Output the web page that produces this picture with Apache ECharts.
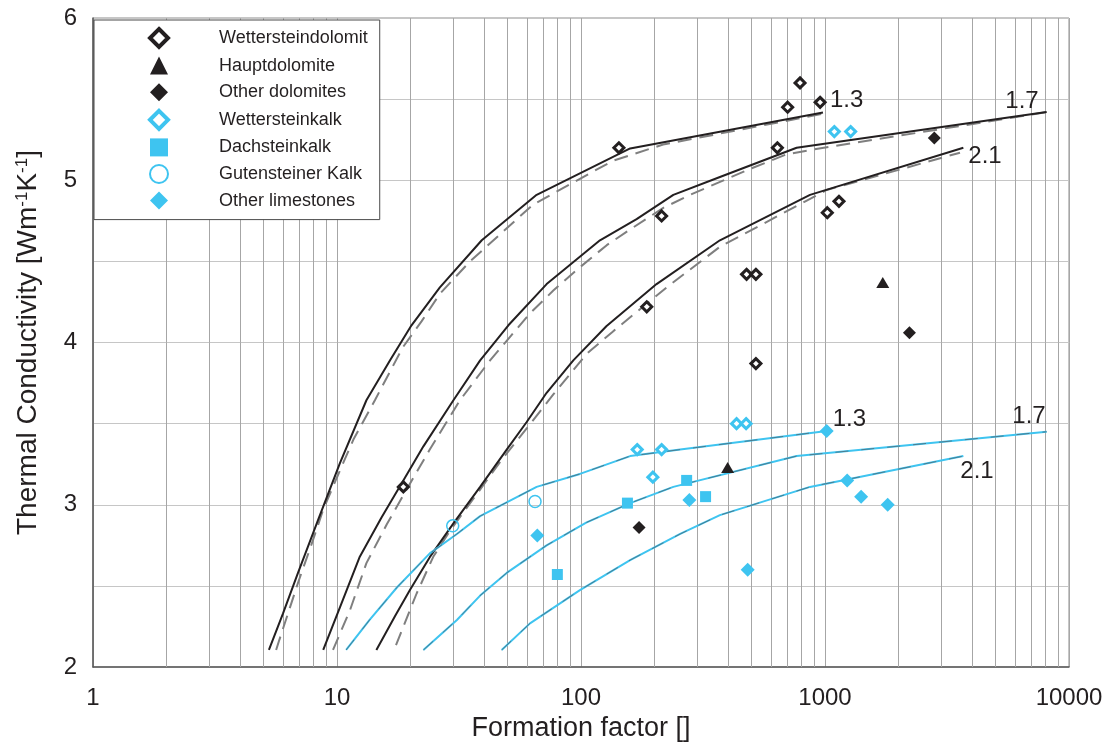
<!DOCTYPE html>
<html>
<head>
<meta charset="utf-8">
<script src="https://cdn.jsdelivr.net/npm/echarts@6.0.0/dist/echarts.min.js"></script>
<style>
  html, body { margin: 0; padding: 0; background: #ffffff; }
  #chart { width: 1115px; height: 744px; }
</style>
</head>
<body>
<div id="chart"></div>
<script>
// ---- model curves: [formation factor, thermal conductivity] ----
const dolo13 = [[5.26,2.105],[6.01,2.33],[6.92,2.58],[8.36,2.905],[10.28,3.256],[13.2,3.644],[16.5,3.89],[20.2,4.106],[26.4,4.34],[39.2,4.63],[65.8,4.91],[159,5.196],[981,5.417]];
const dolo13Dashed = [[5.63,2.105],[5.8,2.166],[6.94,2.524],[7.88,2.76],[8.78,2.97],[9.97,3.165],[11.66,3.40],[14.3,3.644],[18.6,3.97],[22.2,4.13],[26.4,4.30],[35.1,4.50],[63.6,4.85],[135,5.12],[217,5.22],[981,5.41]];
const dolo17 = [[8.78,2.105],[10.3,2.37],[12.4,2.68],[15.2,2.92],[18.7,3.15],[22.6,3.36],[30.0,3.644],[38.6,3.89],[50.4,4.106],[72.3,4.36],[119.6,4.63],[169,4.76],[239,4.91],[371,5.02],[765,5.20],[8100,5.42]];
const dolo17Dashed = [[9.63,2.105],[11.3,2.35],[13.2,2.64],[16.0,2.88],[19.9,3.13],[24.0,3.34],[31.9,3.644],[42.4,3.89],[51.2,4.035],[61.8,4.18],[77.0,4.32],[99.2,4.465],[127.5,4.60],[164,4.71],[217.5,4.83],[280,4.91],[493,5.07],[697,5.16],[896,5.19],[8100,5.42]];
const dolo21 = [[14.5,2.105],[17.3,2.314],[19.9,2.474],[24.0,2.677],[30.0,2.885],[38.6,3.11],[49.6,3.34],[59.9,3.51],[72.3,3.69],[93.0,3.89],[127,4.10],[204,4.36],[371,4.63],[868,4.91],[3690,5.20]];
const dolo21Dashed = [[17.45,2.135],[18.7,2.248],[21.2,2.453],[24.8,2.679],[29.05,2.84],[34.0,2.98],[48.0,3.29],[59.9,3.47],[77.0,3.68],[105.5,3.93],[135.7,4.07],[224.5,4.34],[371,4.59],[1016,4.94],[3575,5.17]];
const lime13 = [[10.9,2.105],[13.6,2.29],[17.6,2.49],[24.0,2.70],[31.0,2.82],[38.6,2.93],[65.8,3.11],[99,3.19],[159,3.30],[255,3.34],[1016,3.455]];
const lime17 = [[22.6,2.105],[31.0,2.29],[38.6,2.44],[49.6,2.58],[72.3,2.75],[105,2.89],[159,3.01],[239,3.11],[765,3.30],[8100,3.45]];
const lime21 = [[47.3,2.105],[61.8,2.269],[99,2.474],[159,2.659],[255,2.82],[371,2.936],[868,3.11],[3690,3.30]];

// ---- measured samples: [formation factor, thermal conductivity] ----
const wettersteindolomit = [[143,5.20],[214,4.78],[186,4.22],[18.7,3.11],[790,5.60],[703,5.45],[955,5.48],[638,5.20],[1022,4.80],[1141,4.87],[477,4.42],[521,4.42],[521,3.87]];
const hauptdolomite = [[1725,4.37],[399,3.23]];
const otherDolomites = [[2806,5.26],[2218,4.06],[173,2.86]];
const wettersteinkalk = [[1092,5.30],[1274,5.30],[170,3.34],[214,3.34],[197,3.17],[434,3.50],[475,3.50]];
const dachsteinkalk = [[155,3.01],[80,2.57],[271,3.15],[324,3.05]];
const gutensteinerKalk = [[64.8,3.02],[29.8,2.87]];
const otherLimestones = [[66.2,2.81],[1016,3.455],[278,3.03],[1233,3.15],[1406,3.05],[1807,3.00],[482,2.60]];

// ---- axes ----
const xTicks = [1, 10, 100, 1000, 10000];
const yTicks = [2, 3, 4, 5, 6];
const decadeStarts = [1, 10, 100, 1000];

const INK = '#231f20';
const BLUE = '#3ec4f0';
const GREY_DASH = '#7f7f7f';
const FONT = 'Liberation Sans, Arial, Helvetica, sans-serif';

// vertical grid lines at 2..9 within every decade
const minorX = [];
decadeStarts.forEach(d => { for (let m = 2; m <= 9; m++) minorX.push(m * d); });

function modelSolid(data, color, labelText, labelOpt) {
  return {
    type: 'line', data, showSymbol: false, silent: true, z: 3,
    lineStyle: { color, width: 2 },
    endLabel: Object.assign({
      show: true, formatter: labelText, distance: 0,
      fontFamily: FONT, fontSize: 24, color: INK
    }, labelOpt)
  };
}
function modelDashed(data, color, width, z, dash, opacity) {
  return {
    type: 'line', data, showSymbol: false, silent: true, z,
    lineStyle: { color, width, type: dash, opacity: opacity == null ? 1 : opacity }
  };
}

const option = {
  animation: false,
  backgroundColor: '#ffffff',
  textStyle: { fontFamily: FONT, color: INK },
  grid: {
    left: 93, right: 46, top: 18, bottom: 77, outerBoundsMode: 'none',
    show: true, borderColor: '#8c8c8c', borderWidth: 1
  },
  xAxis: {
    type: 'log', logBase: 10, min: xTicks[0], max: xTicks[xTicks.length - 1],
    name: 'Formation factor []', nameLocation: 'middle', nameGap: 47,
    nameTextStyle: { fontSize: 27, color: INK, fontFamily: FONT },
    axisLine: { show: true, lineStyle: { color: '#5a5a5a', width: 1.5 } },
    axisTick: { show: false },
    axisLabel: { fontSize: 24, color: INK, margin: 19, fontFamily: FONT,
      formatter: v => (xTicks.indexOf(v) >= 0 ? String(v) : '') },
    splitLine: { show: true, lineStyle: { color: '#a6a6a6', width: 1 } }
  },
  yAxis: {
    type: 'value', min: yTicks[0], max: yTicks[yTicks.length - 1], interval: 0.5,
    name: 'Thermal Conductivity [Wm{sup|-1}K{sup|-1}]', nameLocation: 'middle', nameGap: 51,
    nameTextStyle: { fontSize: 28, color: INK, fontFamily: FONT,
      rich: { sup: { fontSize: 17, verticalAlign: 'top', color: INK, fontFamily: FONT } } },
    axisLine: { show: true, lineStyle: { color: '#5a5a5a', width: 1.5 } },
    axisTick: { show: false },
    axisLabel: { fontSize: 24, color: INK, margin: 16, fontFamily: FONT,
      formatter: v => (yTicks.indexOf(v) >= 0 ? String(v) : '') },
    splitLine: { show: true, lineStyle: { color: '#c6c6c6', width: 1 } }
  },
  legend: {
    orient: 'vertical', left: 94, top: 20,
    padding: [7, 12, 9, 54], itemGap: 6.6, itemWidth: 18, itemHeight: 18,
    backgroundColor: '#ffffff', borderColor: '#4a4a4a', borderWidth: 1,
    textStyle: { fontSize: 18, lineHeight: 20, color: INK, fontFamily: FONT, padding: [0, 0, 0, 46] },
    data: [
      { name: 'Wettersteindolomit', itemStyle: { borderWidth: 4 } },
      { name: 'Hauptdolomite' },
      { name: 'Other dolomites' },
      { name: 'Wettersteinkalk', itemStyle: { borderWidth: 4 } },
      { name: 'Dachsteinkalk' },
      { name: 'Gutensteiner Kalk', itemStyle: { borderWidth: 2 } },
      { name: 'Other limestones' }
    ]
  },
  series: [
    {
      type: 'line', data: [], silent: true,
      markLine: {
        silent: true, z: 1, symbol: ['none', 'none'], label: { show: false },
        lineStyle: { color: '#a6a6a6', width: 1, type: 'solid' },
        emphasis: { disabled: true },
        data: minorX.map(v => ({ xAxis: v }))
      }
    },
    modelDashed(dolo13Dashed, GREY_DASH, 2, 2, [14, 8]),
    modelDashed(dolo17Dashed, GREY_DASH, 2, 2, [14, 8]),
    modelDashed(dolo21Dashed, GREY_DASH, 2, 2, [14, 8]),
    modelSolid(dolo13, INK, '1.3', { align: 'left', offset: [7, -12] }),
    modelSolid(dolo17, INK, '1.7', { align: 'right', offset: [-8, -11] }),
    modelSolid(dolo21, INK, '2.1', { align: 'left', offset: [5, 9] }),
    modelSolid(lime13, BLUE, '1.3', { align: 'left', offset: [6, -12] }),
    modelSolid(lime17, BLUE, '1.7', { align: 'right', offset: [-1, -15] }),
    modelSolid(lime21, BLUE, '2.1', { align: 'left', offset: [-3, 15] }),
    modelDashed(lime13, '#4f6f7c', 1, 3, [13, 13], 0.85),
    modelDashed(lime17, '#4f6f7c', 1, 3, [13, 13], 0.85),
    modelDashed(lime21, '#4f6f7c', 1, 3, [13, 13], 0.85),
    {
      name: 'Wettersteindolomit', type: 'scatter', data: wettersteindolomit, z: 5,
      symbol: 'diamond', symbolSize: 10,
      itemStyle: { color: '#ffffff', borderColor: INK, borderWidth: 3, opacity: 1 }
    },
    {
      name: 'Hauptdolomite', type: 'scatter', data: hauptdolomite, z: 5,
      symbol: 'triangle', symbolSize: [13, 11], itemStyle: { color: INK, opacity: 1 }
    },
    {
      name: 'Other dolomites', type: 'scatter', data: otherDolomites, z: 5,
      symbol: 'diamond', symbolSize: 13, itemStyle: { color: INK, opacity: 1 }
    },
    {
      name: 'Wettersteinkalk', type: 'scatter', data: wettersteinkalk, z: 5,
      symbol: 'diamond', symbolSize: 10,
      itemStyle: { color: '#ffffff', borderColor: BLUE, borderWidth: 3, opacity: 1 }
    },
    {
      name: 'Dachsteinkalk', type: 'scatter', data: dachsteinkalk, z: 5,
      symbol: 'rect', symbolSize: 11, itemStyle: { color: BLUE, opacity: 1 }
    },
    {
      name: 'Gutensteiner Kalk', type: 'scatter', data: gutensteinerKalk, z: 5,
      symbol: 'circle', symbolSize: 12,
      itemStyle: { color: 'rgba(255,255,255,0)', borderColor: BLUE, borderWidth: 1.5, opacity: 1 }
    },
    {
      name: 'Other limestones', type: 'scatter', data: otherLimestones, z: 5,
      symbol: 'diamond', symbolSize: 14, itemStyle: { color: BLUE, opacity: 1 }
    }
  ]
};

const chart = echarts.init(document.getElementById('chart'), null, { renderer: 'canvas' });
chart.setOption(option);
</script>
</body>
</html>
